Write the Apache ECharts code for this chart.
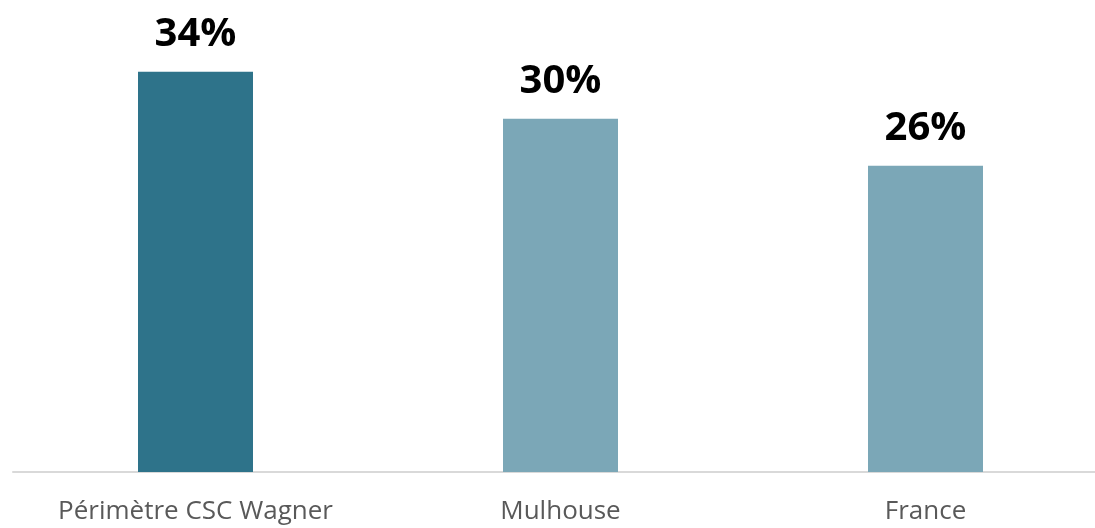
<!DOCTYPE html>
<html>
<head>
<meta charset="utf-8">
<script src="https://fastly.jsdelivr.net/npm/echarts@6/dist/echarts.min.js"></script>
<style>
  html, body { margin: 0; padding: 0; background: #fff; }
  #chart { width: 1095px; height: 528px; }
</style>
</head>
<body>
<div id="chart"></div>
<script>
// catégories et valeurs (%)
const categories = ["Périmètre CSC Wagner", "Mulhouse", "France"];
const values = [34, 30, 26];
const barColors = ["#2E738A", "#7BA7B7", "#7BA7B7"];

const chart = echarts.init(document.getElementById("chart"));

chart.setOption({
  animation: false,
  grid: {
    left: 13,
    right: -13,
    top: 1,
    bottom: 56,
    outerBoundsMode: "none",
  },
  xAxis: {
    type: "category",
    data: categories,
    axisLine: { lineStyle: { color: "#D9D9D9", width: 2 } },
    axisTick: { show: false },
    axisLabel: {
      color: "#595959",
      fontSize: 26,
      fontFamily: "Open Sans",
      margin: 27,
    },
  },
  yAxis: {
    type: "value",
    min: 0,
    max: 40,
    show: false,
    splitLine: { show: false },
  },
  series: [
    {
      type: "bar",
      data: values.map((v, i) => ({ value: v, itemStyle: { color: barColors[i] } })),
      barWidth: 115,
      label: {
        show: true,
        position: "top",
        distance: 17,
        formatter: "{c}%",
        color: "#000",
        fontSize: 40,
        fontWeight: "bold",
        fontFamily: "Open Sans",
      },
    },
  ],
});
</script>
</body>
</html>
